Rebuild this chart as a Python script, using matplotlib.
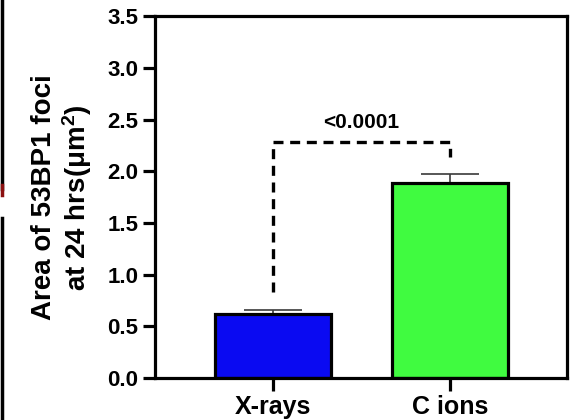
import matplotlib
matplotlib.use('Agg')
import matplotlib.pyplot as plt
from matplotlib.lines import Line2D

plt.rcParams['font.family'] = ['Liberation Sans', 'DejaVu Sans']
plt.rcParams['font.weight'] = 'bold'
plt.rcParams['mathtext.fontset'] = 'custom'
plt.rcParams['mathtext.rm'] = 'Liberation Sans:bold'
plt.rcParams['mathtext.bf'] = 'Liberation Sans:bold'
plt.rcParams['mathtext.default'] = 'bf'

# data
groups = ['X-rays', 'C ions']
means = [0.62, 1.89]
sems = [0.04, 0.08]
colors = ['#0a0af2', '#40fb40']
yticks = [0.0, 0.5, 1.0, 1.5, 2.0, 2.5, 3.0, 3.5]
p_label = '<0.0001'
bracket_y = [0.83, 2.28, 2.14]  # left foot, top, right foot

fig = plt.figure(figsize=(5.74, 4.2), dpi=100)
ax = fig.add_axes([0.27, 0.1, 0.718, 0.861])

x = list(range(len(groups)))
ax.bar(x, means, width=0.655, color=colors, edgecolor='black', linewidth=2.3, zorder=2)
ax.errorbar(x, means, yerr=[[0] * len(sems), sems], fmt='none', ecolor='#3a3a3a',
            elinewidth=1.2, capsize=21, capthick=1.2, zorder=1)

# significance bracket
ax.plot([x[0], x[0], x[1], x[1]], [bracket_y[0], bracket_y[1], bracket_y[1], bracket_y[2]],
        color='black', linewidth=2.4, linestyle=(0, (3, 2)), solid_capstyle='butt')
ax.text((x[0] + x[1]) / 2, bracket_y[1] + 0.1, p_label, ha='center', va='bottom',
        fontsize=15, fontweight='bold')

ax.set_xlim(-0.667, 1.661)
ax.set_ylim(0, 3.5)
ax.set_yticks(yticks)
ax.set_yticklabels(['%.1f' % t for t in yticks])
ax.set_xticks(x)
ax.set_xticklabels(groups)
ax.tick_params(axis='y', labelsize=16, width=2.3, length=9, pad=3)
ax.tick_params(axis='x', labelsize=18, width=2.3, length=9, pad=3)
for lab in ax.get_xticklabels() + ax.get_yticklabels():
    lab.set_fontweight('bold')
for s in ax.spines.values():
    s.set_linewidth(2.3)

ax.set_ylabel('Area of 53BP1 foci\nat 24 hrs(μm$^2$)', fontsize=20, fontweight='bold',
              linespacing=1.12)
ax.yaxis.set_label_coords(-0.148, 0.5)

# dark edge strip at left of the scanned figure
fig.add_artist(Line2D([0.003, 0.003], [1.0, 0.55], transform=fig.transFigure,
                      color='black', linewidth=2.5))
fig.add_artist(Line2D([0.003, 0.003], [0.56, 0.535], transform=fig.transFigure,
                      color='#8b1010', linewidth=2.5))
fig.add_artist(Line2D([0.003, 0.003], [0.48, 0.0], transform=fig.transFigure,
                      color='black', linewidth=2.5))

fig.savefig('out.png', dpi=100)
